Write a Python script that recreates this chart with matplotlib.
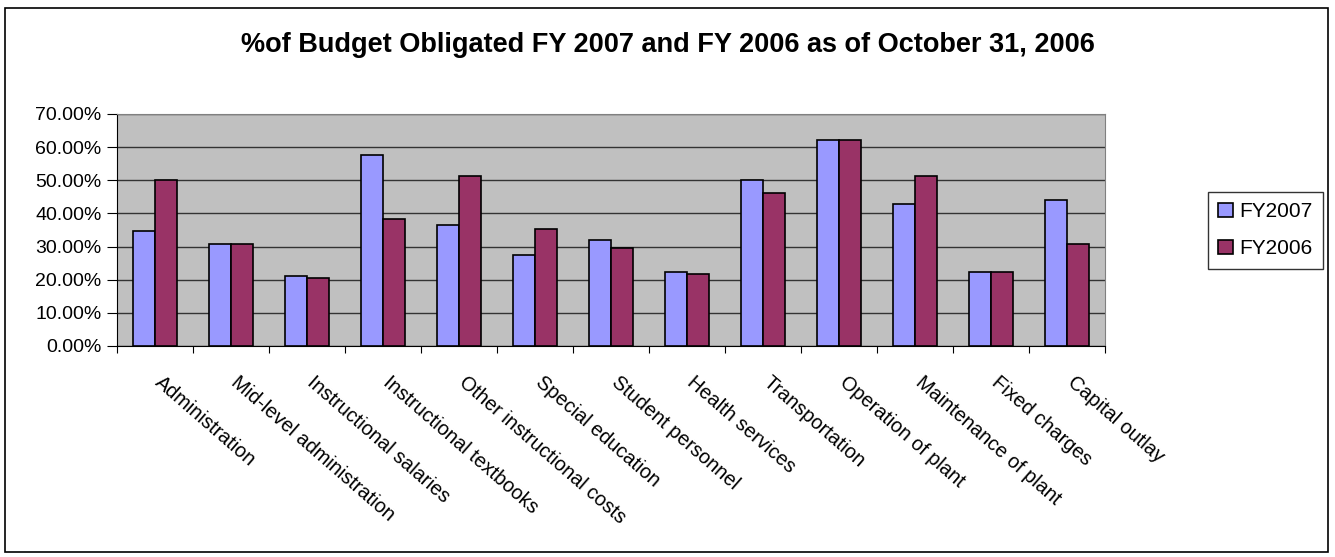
"""
% of budget obligated, FY2007 vs FY2006
"""

import numpy as np
import matplotlib.pyplot as plt
from matplotlib.patches import Rectangle
from matplotlib.ticker import FixedLocator, PercentFormatter

categories = ['Administration', 'Mid-level administration', 'Instructional salaries',
              'Instructional textbooks', 'Other instructional costs', 'Special education',
              'Student personnel', 'Health services', 'Transportation', 'Operation of plant',
              'Maintenance of plant', 'Fixed charges', 'Capital outlay']
fy2007 = [34.7, 30.8, 21.1, 57.5, 36.5, 27.4, 31.9, 22.2, 50.1, 62.1, 42.7, 22.2, 44.0]
fy2006 = [50.1, 30.8, 20.4, 38.2, 51.3, 35.4, 29.7, 21.6, 46.2, 62.1, 51.3, 22.2, 30.8]
series_names = ['FY2007', 'FY2006']
yticks = [0, 10, 20, 30, 40, 50, 60, 70]

plt.rcParams['font.family'] = ['Liberation Sans', 'DejaVu Sans']

fig = plt.figure(figsize=(13.35, 5.57), dpi=100)
ax = fig.add_axes([117 / 1335, 1 - 346 / 557, 988 / 1335, 232 / 557])
ax.set_facecolor('#C0C0C0')

x = np.arange(len(categories))
w = 0.29
ax.bar(x - w / 2, fy2007, w, color='#9999FF', edgecolor='black', linewidth=1.2,
       label=series_names[0], zorder=3)
ax.bar(x + w / 2, fy2006, w, color='#993366', edgecolor='black', linewidth=1.2,
       label=series_names[1], zorder=3)

ax.set_xlim(-0.5, len(categories) - 0.5)
ax.set_ylim(0, 70)
ax.set_yticks(yticks)
ax.yaxis.set_major_formatter(PercentFormatter(decimals=2))
ax.grid(axis='y', color='#333333', linewidth=1, zorder=1)
ax.tick_params(axis='y', labelsize=14, length=7, direction='out', pad=4)

# category boundaries get the ticks, names start at bar centres
ax.xaxis.set_major_locator(FixedLocator(np.arange(len(categories) + 1) - 0.5))
ax.set_xticklabels([])
ax.tick_params(axis='x', length=5, direction='out')
for i, name in enumerate(categories):
    ax.text(i + 0.12, -8, name, rotation=-41, rotation_mode='anchor',
            ha='left', va='top', fontsize=14.3)

for side in ['top', 'right']:
    ax.spines[side].set_color('#808080')
ax.spines['left'].set_color('black')
ax.spines['bottom'].set_color('black')

leg = fig.legend(loc='upper left', bbox_to_anchor=(1208 / 1335, 1 - 192 / 557),
                 fontsize=15, frameon=True, fancybox=False, edgecolor='black',
                 handlelength=0.7, handleheight=0.7, handletextpad=0.3,
                 borderpad=0.5, labelspacing=0.85, borderaxespad=0)
leg.get_frame().set_linewidth(1)

fig.text(0.5, 1 - 45 / 557, '%of Budget Obligated FY 2007 and FY 2006 as of October 31, 2006',
         ha='center', va='center', fontsize=19.5, fontweight='bold')

fig.patches.append(Rectangle((5 / 1335, 5 / 557), 1323 / 1335, 544 / 557,
                             transform=fig.transFigure, fill=False,
                             edgecolor='black', linewidth=1.2))

fig.savefig('out.png', dpi=100)
plt.close(fig)
